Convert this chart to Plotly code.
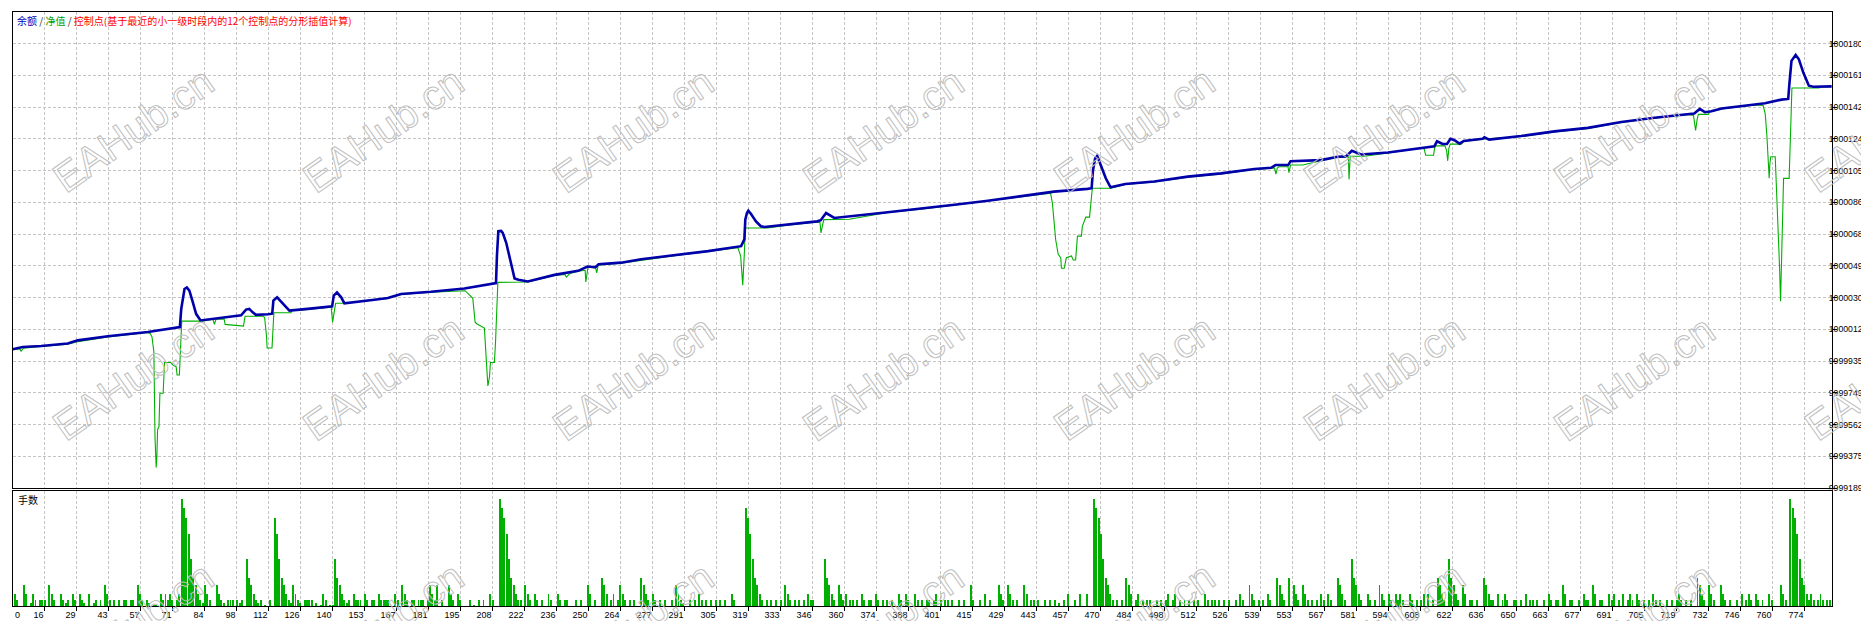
import plotly.graph_objects as go

# ---------------------------------------------------------------
# Dados (numero da operacao -> valor)
# ---------------------------------------------------------------

x_tick_labels = ['0', '16', '29', '43', '57', '71', '84', '98', '112', '126', '140', '153', '167', '181',
                 '195', '208', '222', '236', '250', '264', '277', '291', '305', '319', '333', '346', '360',
                 '374', '388', '401', '415', '429', '443', '457', '470', '484', '498', '512', '526', '539',
                 '553', '567', '581', '594', '608', '622', '636', '650', '663', '677', '691', '705', '719',
                 '732', '746', '760', '774']

y_tick_labels = ['9999189', '9999375', '9999562', '9999749', '9999935', '10000122', '10000309',
                 '10000495', '10000682', '10000869', '10001055', '10001242', '10001429', '10001616',
                 '10001802']

# balance (余额)
bal_trade = [2.4, 6.7, 14.6, 26.1, 30.4, 43.4, 60.6, 73.5, 74.4, 75.0, 76.4, 77.4, 78.5, 80.0, 81.4, 83.3,
             89.3, 100.8, 102.9, 104.3, 105.8, 107.2, 112.3, 114.2, 114.7, 116.3, 118.0, 120.2, 121.6,
             129.5, 139.0, 140.0, 140.7, 142.1, 143.9, 145.3, 158.2, 164.0, 169.7, 182.6, 197.0, 209.9,
             210.6, 211.0, 211.6, 212.8, 213.5, 215.0, 216.9, 218.6, 220.3, 224.3, 235.8, 246.0, 250.0,
             253.5, 254.8, 264.5, 273.1, 287.5, 302.0, 316.2, 317.6, 318.0, 318.7, 319.3, 320.4, 322.6,
             324.7, 326.3, 336.2, 349.0, 350.5, 351.7, 352.8, 354.7, 356.3, 379.4, 393.7, 408.1, 422.5,
             436.6, 451.0, 465.4, 467.2, 467.8, 468.7, 469.6, 471.1, 473.3, 474.8, 475.4, 481.7, 494.2,
             508.6, 523.0, 537.3, 544.5, 546.4, 551.9, 552.9, 566.0, 573.2, 576.8, 579.3, 583.3, 594.9,
             609.2, 614.9, 616.0, 618.4, 620.3, 621.8, 623.5, 625.7, 627.5, 635.7, 636.4, 638.5, 652.2,
             666.6, 681.0, 695.4, 709.7, 724.1, 726.8, 729.2, 731.4, 734.2, 738.6, 752.9, 757.3, 764.4,
             767.3, 767.8, 768.7, 770.5, 771.9, 773.8, 776.2, 778.1, 786.0]
bal_value = [10000006, 10000019, 10000025, 10000039, 10000058, 10000082, 10000107, 10000132, 10000136,
             10000243, 10000360, 10000369, 10000350, 10000282, 10000214, 10000175,
             10000185, 10000205, 10000239, 10000243, 10000223, 10000208, 10000212, 10000215, 10000292,
             10000311, 10000286, 10000253, 10000233,
             10000243, 10000253, 10000258, 10000321, 10000340, 10000311, 10000276, 10000297, 10000307,
             10000331, 10000344, 10000363, 10000395,
             10000395, 10000554, 10000700, 10000702, 10000690, 10000632, 10000515, 10000422, 10000414,
             10000404, 10000443, 10000467, 10000492,
             10000488, 10000506, 10000515, 10000535, 10000559, 10000583, 10000612, 10000652, 10000768,
             10000807, 10000821, 10000803, 10000758,
             10000729, 10000725, 10000739, 10000758, 10000765, 10000787, 10000807, 10000792, 10000778,
             10000812, 10000832, 10000856, 10000879,
             10000904, 10000933, 10000949, 10000953, 10001060, 10001128, 10001143, 10001089, 10001011,
             10000972, 10000958, 10000978, 10000992,
             10001021, 10001040, 10001066, 10001073, 10001089, 10001089, 10001112, 10001118, 10001138,
             10001140, 10001173, 10001151, 10001163,
             10001192, 10001200, 10001229, 10001213, 10001213, 10001244, 10001235, 10001215, 10001231,
             10001244, 10001252, 10001239, 10001260,
             10001287, 10001308, 10001342, 10001367, 10001390, 10001392, 10001419, 10001400, 10001406,
             10001422, 10001445, 10001453, 10001474,
             10001478, 10001565, 10001702, 10001737, 10001711, 10001633, 10001556, 10001550, 10001552]

# equity (净值)
eq_trade = [2.4, 5.5, 6.0, 7.0, 14.6, 26.1, 30.4, 43.4, 60.6, 61.7, 62.4, 63.2, 63.7, 64.2, 64.5, 64.8,
            65.4, 65.8, 67.2, 67.8, 70.4, 71.4, 72.8, 73.2, 74.2, 74.7, 75.2, 84.2, 88.6, 89.3, 90.0,
            93.5, 93.9, 101.8, 102.5, 110.1, 110.9, 111.7, 112.0, 114.1, 114.6, 114.9, 122.3, 122.5,
            129.5, 139.0, 139.6, 140.2, 140.8, 141.5, 145.3, 158.2, 164.0, 169.7, 182.6, 197.3, 199.2,
            200.6, 201.6, 202.3, 205.6, 206.3, 207.1, 207.8, 208.2, 209.9, 210.4, 211.4, 222.1, 224.3,
            235.8, 240.3, 240.9, 242.5, 246.0, 249.0, 249.3, 249.8, 250.2, 253.5, 254.0, 254.6, 264.5,
            287.5, 302.0, 314.8, 316.0, 316.9, 317.6, 318.0, 327.6, 336.2, 349.0, 350.2, 350.6, 351.3,
            351.8, 362.8, 379.4, 393.7, 422.5, 449.5, 450.3, 451.0, 451.7, 452.8, 453.9, 454.2, 455.4,
            456.3, 458.5, 459.3, 460.3, 461.1, 462.8, 463.2, 464.7, 466.3, 467.1, 467.5, 475.4, 481.7,
            494.2, 508.6, 523.0, 537.3, 546.0, 546.6, 547.2, 547.9, 551.8, 552.2, 552.9, 558.2, 566.0,
            573.2, 577.8, 578.1, 578.6, 584.8, 594.9, 609.2, 610.5, 611.1, 614.5, 615.1, 619.4, 620.1,
            620.6, 621.1, 621.7, 626.5, 627.5, 636.0, 652.2, 666.6, 681.0, 695.4, 709.7, 724.1, 726.5,
            727.2, 727.4, 728.1, 728.6, 732.9, 733.5, 738.6, 752.9, 756.5, 757.4, 758.1, 758.8, 759.1,
            759.4, 759.8, 761.7, 762.1, 762.6, 763.2, 763.6, 764.0, 764.3, 764.6, 765.0, 765.3, 767.7,
            768.0, 768.4, 768.9, 780.6, 781.5, 786.0]
eq_value = [10000006, 10000008, 9999994, 10000012, 10000022, 10000036, 10000050, 10000078, 10000104,
            10000097, 10000078, 9999990, 9999485, 9999310, 9999377, 9999533,
            9999551, 9999747, 9999747, 9999928, 9999928, 9999912, 9999903, 9999854, 9999854, 10000078,
            10000171, 10000171, 10000183, 10000152, 10000183,
            10000183, 10000152, 10000142, 10000200, 10000200, 10000194, 10000087, 10000013, 10000013,
            10000165, 10000220, 10000220, 10000233,
            10000240, 10000250, 10000253, 10000165, 10000230, 10000276, 10000276, 10000294, 10000304,
            10000328, 10000341, 10000350, 10000321,
            10000305, 10000165, 10000156, 10000130, 9999961, 9999790, 9999844, 9999928, 9999928,
            10000048, 10000399, 10000399, 10000401,
            10000440, 10000445, 10000430, 10000452, 10000464, 10000470, 10000402, 10000470, 10000488,
            10000484, 10000455, 10000500, 10000512,
            10000556, 10000580, 10000603, 10000554, 10000383, 10000573, 10000719, 10000719, 10000736,
            10000755, 10000750, 10000690, 10000740,
            10000768, 10000770, 10000810, 10000829, 10000876, 10000924, 10000865, 10000748, 10000651,
            10000564, 10000544, 10000482, 10000482,
            10000544, 10000554, 10000531, 10000531, 10000671, 10000671, 10000729, 10000783, 10000783,
            10000904, 10000953, 10000953, 10000975,
            10000989, 10001018, 10001037, 10001063, 10001072, 10001036, 10001072, 10001079, 10001079,
            10001044, 10001089, 10001089, 10001115,
            10001135, 10001137, 10001005, 10001141, 10001141, 10001160, 10001189, 10001183, 10001147,
            10001147, 10001202, 10001202, 10001177,
            10001114, 10001187, 10001212, 10001212, 10001228, 10001242, 10001257, 10001284, 10001305,
            10001339, 10001364, 10001387, 10001381,
            10001322, 10001293, 10001361, 10001387, 10001387, 10001403, 10001419, 10001442, 10001439,
            10001390, 10001264, 10001089, 10001011,
            10001098, 10001138, 10001138, 10001011, 10000778, 10000603, 10000477, 10000288, 10000477,
            10000671, 10000827, 10001011, 10001011,
            10001147, 10001419, 10001542, 10001542, 10001550, 10001550]

# lots (手数), relative height, max = 100
vol_trade = [3, 4, 7, 8, 10, 11, 12, 14, 15, 16, 18, 19, 20, 23, 24, 25, 26, 28, 29, 31,
             32, 33, 35, 37, 38, 40, 42, 43, 44, 46, 48, 50, 51, 53, 54, 56, 57, 58, 60, 61,
             63, 64, 66, 67, 68, 69, 70, 71, 73, 74, 75, 76, 77, 78, 79, 80, 81, 82, 83, 84,
             85, 86, 87, 90, 91, 92, 93, 95, 96, 97, 99, 100, 101, 103, 104, 105, 106, 107, 108, 109,
             111, 113, 115, 116, 117, 118, 119, 120, 121, 122, 123, 124, 125, 126, 128, 129, 130, 131, 133, 135,
             136, 137, 139, 140, 141, 142, 143, 144, 145, 146, 147, 149, 150, 151, 152, 154, 155, 157, 158, 160,
             161, 162, 163, 164, 167, 168, 170, 171, 172, 174, 175, 177, 178, 179, 181, 182, 183, 184, 185, 187,
             190, 191, 192, 194, 195, 199, 201, 203, 205, 208, 209, 212, 213, 214, 215, 216, 217, 218, 219, 220,
             221, 223, 224, 225, 227, 228, 230, 233, 234, 237, 238, 240, 241, 245, 247, 250, 251, 253, 256, 257,
             258, 260, 261, 263,
             264, 265, 266, 268, 270, 273, 274, 275, 276, 278, 279, 281, 283, 286, 288, 289, 290, 291, 294, 296,
             298, 299, 301, 303, 305, 307, 309, 312, 313, 318, 319, 320, 321, 322, 323, 324, 325, 327, 329, 331,
             333, 335, 336, 337, 339, 341, 343, 345, 346, 347, 352, 353, 354, 355, 356, 358, 359, 360, 361, 363,
             364, 366, 368, 369, 371, 372, 374, 375, 377, 379, 381, 384, 385, 387, 388, 391, 392, 394, 396, 397,
             399, 400, 402, 404, 405, 407, 410, 412, 415, 416, 419, 421, 423, 427, 428, 429, 431, 432, 433, 435,
             438, 439, 441, 442, 444, 447, 449, 451, 453, 455, 457, 460, 462, 465, 468, 469, 470, 471, 472, 473,
             474, 475, 476, 478, 480, 482, 483, 484, 486, 487, 489, 491, 492, 495, 497, 499, 500, 502, 503, 505,
             507, 509, 511, 513, 516, 517, 519, 520, 522, 524,
             526, 529, 531, 532, 535, 536, 537, 539, 541, 543, 544, 547, 548, 549, 550, 552, 554, 555, 556, 558,
             559, 560, 562, 564, 566, 567, 569, 570, 573, 574, 575, 576, 579, 580, 581, 582, 583, 586, 587, 589,
             591, 592, 593, 595, 596, 598, 599, 600, 601, 604, 605, 607, 609, 610, 612, 614, 616, 617, 618, 619,
             621, 622, 623, 624, 625, 627, 628, 630, 631, 633, 636, 637, 638, 639, 640, 642, 644, 645, 646, 649,
             650, 652, 654, 656, 657, 659, 662, 664, 665, 667, 668, 670, 671, 673, 674, 677, 679, 680, 681, 683,
             684, 686, 687, 690, 691, 692, 694, 696, 698, 699, 700, 702, 703, 705, 707, 709, 710, 712, 715, 717,
             719, 720, 721, 723, 725, 728, 729, 730, 731, 733, 734, 735, 738, 739, 740, 742, 745, 747, 749, 750,
             751, 753, 754, 756, 759, 760, 764, 765, 766, 768, 769, 770, 771, 772, 773, 774, 775, 776, 777,
             778, 780, 781, 782, 784, 785]
vol_lots = [12, 6, 20, 12, 3, 12, 6, 6, 6, 6, 20, 12, 6, 12, 6, 3, 6, 12, 6, 12,
            6, 3, 12, 3, 6, 6, 20, 12, 6, 6, 6, 6, 6, 6, 6, 20, 12, 6, 6, 3,
            1, 1, 12, 6, 12, 6, 12, 6, 6, 12, 100, 92, 82, 68, 44, 27, 20, 12, 6, 3,
            20, 12, 6, 20, 12, 6, 3, 6, 6, 6, 6, 3, 6, 44, 27, 20, 12, 6, 3, 6,
            1, 6, 82, 68, 44, 27, 20, 12, 6, 3, 20, 12, 6, 3, 6, 6, 6, 6, 3, 1,
            12, 6, 1, 1, 44, 27, 20, 12, 6, 3, 6, 12, 6, 6, 6, 12, 6, 6, 6, 12,
            6, 6, 6, 6, 12, 6, 20, 12, 6, 6, 6, 6, 6, 6, 6, 20, 12, 6, 20, 6,
            20, 12, 6, 12, 6, 6, 1, 6, 6, 12, 6, 100, 92, 82, 68, 44, 27, 20, 12, 6,
            6, 20, 12, 6, 12, 6, 6, 12, 6, 12, 6, 6, 6, 6, 6, 20, 12, 6, 27, 20,
            12, 6, 12, 6,
            20, 12, 6, 6, 6, 27, 20, 12, 6, 12, 6, 6, 6, 6, 20, 12, 6, 3, 6, 6,
            12, 6, 6, 6, 6, 6, 6, 12, 6, 92, 82, 68, 44, 27, 20, 12, 6, 6, 6, 6,
            6, 20, 12, 6, 6, 6, 6, 12, 6, 6, 44, 27, 20, 12, 6, 20, 12, 6, 12, 6,
            6, 6, 12, 6, 6, 6, 12, 6, 6, 6, 6, 12, 6, 12, 6, 12, 6, 6, 6, 6,
            6, 12, 6, 6, 6, 6, 6, 6, 20, 6, 6, 12, 6, 20, 12, 6, 20, 12, 6, 6,
            20, 12, 6, 6, 6, 6, 6, 6, 3, 6, 12, 6, 12, 12, 100, 92, 82, 68, 44, 27,
            20, 12, 6, 6, 6, 27, 20, 12, 6, 12, 6, 6, 6, 6, 6, 6, 12, 6, 12, 6,
            6, 6, 6, 6, 12, 6, 6, 6, 6, 6,
            6, 6, 12, 6, 20, 12, 6, 6, 6, 12, 6, 27, 20, 12, 6, 27, 20, 12, 6, 20,
            12, 6, 6, 6, 12, 6, 12, 6, 27, 20, 12, 6, 44, 27, 20, 12, 6, 12, 6, 6,
            20, 12, 6, 12, 6, 12, 6, 12, 6, 12, 6, 6, 6, 12, 12, 6, 27, 20, 12, 6,
            44, 27, 20, 12, 6, 20, 12, 6, 6, 6, 27, 20, 12, 6, 6, 12, 6, 12, 6, 6,
            6, 6, 12, 6, 6, 6, 6, 12, 6, 6, 6, 20, 12, 6, 6, 6, 12, 6, 6, 20,
            12, 6, 6, 12, 6, 12, 6, 12, 6, 12, 6, 12, 6, 6, 6, 12, 6, 6, 6, 6,
            6, 12, 6, 6, 6, 27, 20, 12, 6, 20, 12, 6, 20, 12, 6, 6, 6, 12, 6, 12,
            6, 12, 6, 6, 12, 6, 20, 12, 6, 100, 92, 82, 68, 44, 27, 20, 12, 6, 12,
            6, 6, 12, 6, 6, 6]

assert len(vol_trade) == len(vol_lots), (len(vol_trade), len(vol_lots))
assert len(bal_trade) == len(bal_value), (len(bal_trade), len(bal_value))
assert len(eq_trade) == len(eq_value), (len(eq_trade), len(eq_value))

# ---------------------------------------------------------------
# Escalas (grade do MT4: 32 px por divisao)
# ---------------------------------------------------------------
W, H = 1869, 621
x_first, x_step = 2.3, 13.786
y_first, y_step = 9999189, 186.7

x_grid = [x_first + k * x_step for k in range(len(x_tick_labels))]
y_grid = [y_first + k * y_step for k in range(len(y_tick_labels))]

left_px, right_px = 4.5, 1824
x_range = [x_first, x_first + (right_px - left_px) / 32.0 * x_step]
x_dom = [left_px / W, right_px / W]
y_dom_main = [(H - 484) / H, (H - 4) / H]
y_dom_vol = [(H - 603) / H, (H - 486.5) / H]
y_range_main = [y_first, y_first + 15 * y_step]

grid_col = '#C4C4C4'
tick_font = dict(family='Liberation Sans', size=9, color='black')
ytick_font = dict(family='Liberation Sans', size=8.7, color='black')

fig = go.Figure()

fig.add_trace(go.Scatter(x=eq_trade, y=eq_value, mode='lines',
                         line=dict(color='#00B000', width=1.1),
                         xaxis='x', yaxis='y', showlegend=False, hoverinfo='skip'))
fig.add_trace(go.Scatter(x=bal_trade, y=bal_value, mode='lines',
                         line=dict(color='#0000AA', width=2.6),
                         xaxis='x', yaxis='y', showlegend=False, hoverinfo='skip'))
fig.add_trace(go.Bar(x=vol_trade, y=vol_lots, width=0.42,
                     marker=dict(color='#00B000', line=dict(width=0)),
                     xaxis='x2', yaxis='y2', showlegend=False, hoverinfo='skip'))

eixo_x = dict(range=x_range, domain=x_dom, tickvals=x_grid, showgrid=True, gridcolor=grid_col,
              griddash='3px,2px', gridwidth=1, showline=True, linecolor='black', linewidth=1,
              mirror=True, zeroline=False, fixedrange=True)

fig.update_layout(
    width=W, height=H, autosize=False,
    margin=dict(l=0, r=0, t=0, b=0),
    paper_bgcolor='white', plot_bgcolor='white',
    bargap=0,
    xaxis=dict(eixo_x, anchor='y', showticklabels=False, ticks=''),
    xaxis2=dict(eixo_x, anchor='y2', tickvals=x_grid[1:], ticktext=x_tick_labels[1:],
                ticks='outside', ticklen=4, tickcolor='black', tickfont=tick_font,
                ticklabelposition='outside left'),
    yaxis=dict(range=y_range_main, domain=y_dom_main, side='right', anchor='x',
               tickvals=y_grid, ticktext=y_tick_labels, ticks='outside', ticklen=4,
               tickcolor='black', tickfont=ytick_font, ticklabelstandoff=-10,
               showgrid=True, gridcolor=grid_col,
               griddash='3px,2px', showline=True, linecolor='black', linewidth=1,
               mirror=True, zeroline=False, fixedrange=True),
    yaxis2=dict(range=[0, 107.6], domain=y_dom_vol, side='right', anchor='x2',
                showgrid=False, showticklabels=False, ticks='', showline=True,
                linecolor='black', linewidth=1, mirror=True, zeroline=False, fixedrange=True),
)

anots = []
anots.append(dict(x=7 / W, y=1 - 13 / H, xref='paper', yref='paper', xanchor='left', yanchor='middle',
                  showarrow=False, font=dict(family='Noto Sans CJK SC', size=10, color='#333333'),
                  text='<span style="color:#0000C0">余额</span> / <span style="color:#00A000">净值</span> / '
                       '<span style="color:#FF0000">控制点(基于最近的小一级时段内的12个控制点的分形插值计算)</span>'))
anots.append(dict(x=8 / W, y=1 - 495 / H, xref='paper', yref='paper', xanchor='left', yanchor='middle',
                  showarrow=False, font=dict(family='Noto Sans CJK SC', size=10, color='black'), text='手数'))
anots.append(dict(x=5 / W, y=1 - 612 / H, xref='paper', yref='paper', xanchor='left', yanchor='middle',
                  showarrow=False, font=tick_font, text=x_tick_labels[0]))

# marca d'agua (texto vazado: o contorno e aplicado no post_script)
for cy in [123, 373, 622]:
    for i in range(8):
        cx = 125 + 250.3 * i
        anots.append(dict(x=cx / W, y=1 - cy / H, xref='paper', yref='paper', xanchor='center',
                          yanchor='middle', showarrow=False, textangle=-35, text='EAHub.cn',
                          font=dict(family='Liberation Sans', size=41, color='rgba(190,190,190,0.35)')))

fig.update_layout(annotations=anots)

vazado = """
var gd = document.getElementById('{plot_id}');
function vazar() {
  gd.querySelectorAll('text.annotation-text').forEach(function (t) {
    if (t.textContent === 'EAHub.cn') {
      t.style.fill = 'none';
      t.style.stroke = '#BEBEBE';
      t.style.strokeWidth = '1px';
    }
  });
}
vazar();
if (gd.on) { gd.on('plotly_afterplot', vazar); }
setTimeout(vazar, 50);
setTimeout(vazar, 300);
"""

fig.write_html("out.html", post_script=vazado)
